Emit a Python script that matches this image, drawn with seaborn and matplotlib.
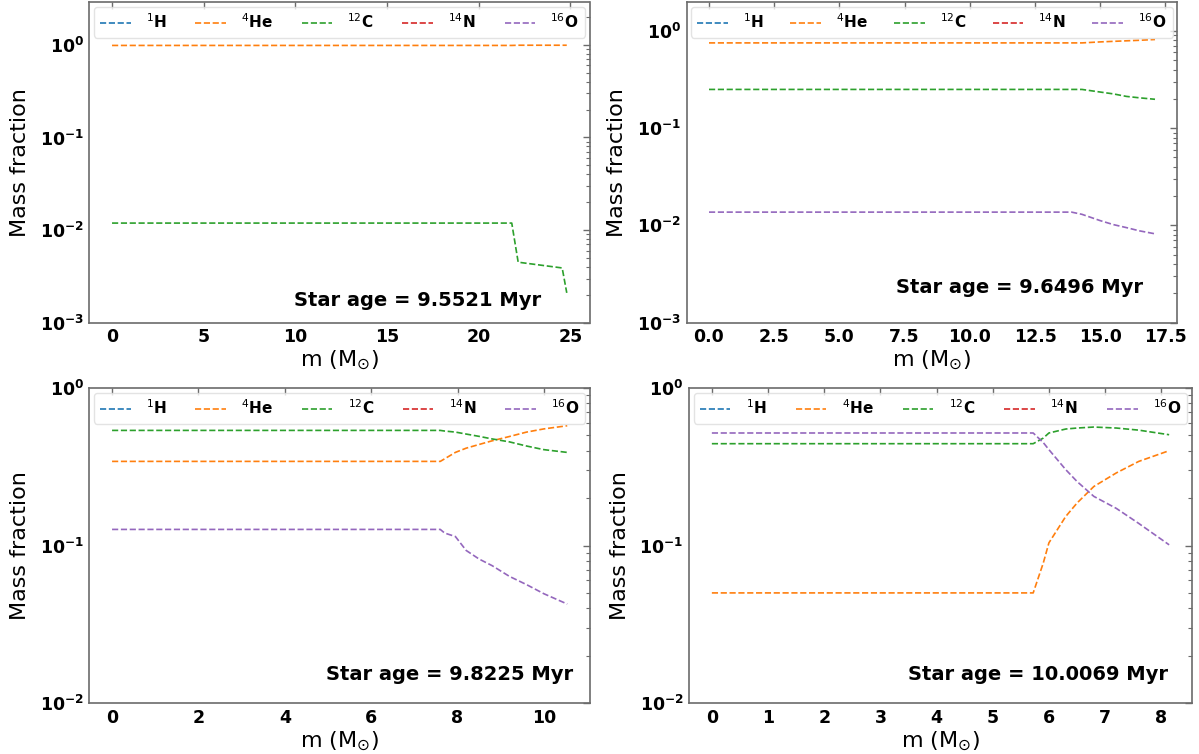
import numpy as np
import matplotlib
matplotlib.use("Agg")
import matplotlib.pyplot as plt
from matplotlib.ticker import FuncFormatter, LogLocator
import seaborn as sns

# Isotope labels and line colours
species = [r"$^{1}$H", r"$^{4}$He", r"$^{12}$C", r"$^{14}$N", r"$^{16}$O"]
colors = ["#1f77b4", "#ff7f0e", "#2ca02c", "#d62728", "#9467bd"]

# Profile 1: star age 9.5521 Myr
m1 = [0.0, 21.8, 22.15, 24.55, 24.8]
h1 = [1e-6, 1e-6, 1e-6, 1e-6, 1e-6]
he1 = [0.985, 0.985, 0.99, 0.99, 0.99]
c1 = [0.0119, 0.0119, 0.0045, 0.0039, 0.0021]
n1 = [1e-6, 1e-6, 1e-6, 1e-6, 1e-6]
o1 = [1e-5, 1e-5, 1e-5, 1e-5, 1e-5]

# Profile 2: star age 9.6496 Myr
m2 = [0.0, 13.9, 14.3, 15.0, 15.5, 16.0, 16.5, 17.1]
h2 = [1e-6] * 8
he2 = [0.752, 0.752, 0.752, 0.77, 0.78, 0.79, 0.80, 0.815]
c2 = [0.25, 0.25, 0.25, 0.235, 0.225, 0.212, 0.205, 0.198]
n2 = [1e-6] * 8
o2 = [0.0137, 0.0137, 0.013, 0.0112, 0.0102, 0.0095, 0.0088, 0.0082]

# Profile 3: star age 9.8225 Myr
m3 = [0.0, 7.6, 7.7, 7.95, 8.2, 8.5, 8.8, 9.2, 9.6, 10.0, 10.54]
h3 = [1e-6] * 11
he3 = [0.342, 0.342, 0.355, 0.39, 0.415, 0.438, 0.462, 0.492, 0.525, 0.55, 0.576]
c3 = [0.538, 0.538, 0.533, 0.525, 0.51, 0.493, 0.475, 0.455, 0.428, 0.406, 0.39]
n3 = [1e-6] * 11
o3 = [0.1265, 0.1265, 0.12, 0.114, 0.093, 0.082, 0.0745, 0.0637, 0.0564, 0.0494, 0.0425]

# Profile 4: star age 10.0069 Myr
m4 = [0.0, 5.72, 5.9, 6.0, 6.3, 6.5, 6.8, 7.2, 7.6, 8.14]
h4 = [1e-6] * 10
he4 = [0.05, 0.05, 0.0775, 0.104, 0.153, 0.186, 0.237, 0.289, 0.342, 0.40]
c4 = [0.443, 0.443, 0.481, 0.518, 0.549, 0.557, 0.565, 0.557, 0.54, 0.505]
n4 = [1e-6] * 10
o4 = [0.518, 0.518, 0.45, 0.406, 0.303, 0.255, 0.205, 0.172, 0.138, 0.101]

ages = ["9.5521", "9.6496", "9.8225", "10.0069"]
profiles = [
    (m1, [h1, he1, c1, n1, o1]),
    (m2, [h2, he2, c2, n2, o2]),
    (m3, [h3, he3, c3, n3, o3]),
    (m4, [h4, he4, c4, n4, o4]),
]
ylims = [(1e-3, 2.9), (1e-3, 1.98), (1e-2, 1.0), (1e-2, 1.0)]
xticks = [[0, 5, 10, 15, 20, 25],
          [0.0, 2.5, 5.0, 7.5, 10.0, 12.5, 15.0, 17.5],
          [0, 2, 4, 6, 8, 10],
          [0, 1, 2, 3, 4, 5, 6, 7, 8]]
age_pos = [(0.903, 0.068), (0.930, 0.111), (0.966, 0.089), (0.952, 0.089)]


def bold_power(v, pos):
    return r"$\mathbf{10^{%d}}$" % int(round(np.log10(v)))


sns.set_style("white")
plt.rcParams.update({
    "axes.edgecolor": "#6b6b6b",
    "axes.linewidth": 1.2,
    "xtick.color": "#6b6b6b",
    "ytick.color": "#6b6b6b",
    "xtick.labelcolor": "black",
    "ytick.labelcolor": "black",
    "text.color": "black",
    "axes.labelcolor": "black",
})

W, H = 1199, 754
fig = plt.figure(figsize=(W / 100, H / 100), dpi=100)
# axes boxes in pixels: left, right, top, bottom
boxes = [(89.3, 589.5, 2, 322.7), (686.7, 1177.3, 2, 322.7),
         (89.3, 590, 388, 703), (689, 1192, 388, 703)]

for i, (m, series) in enumerate(profiles):
    l, r, t, b = boxes[i]
    ax = fig.add_axes([l / W, (H - b) / H, (r - l) / W, (b - t) / H])
    for lab, col, vals in zip(species, colors, series):
        sns.lineplot(x=m, y=vals, ax=ax, color=col, linestyle="--",
                     linewidth=1.2, label=lab, estimator=None, sort=False)
    ax.set_yscale("log")
    ax.set_ylim(*ylims[i])
    ax.yaxis.set_major_locator(LogLocator(base=10))
    ax.yaxis.set_major_formatter(FuncFormatter(bold_power))
    ax.set_xticks(xticks[i])
    ax.margins(x=0.05)
    ax.tick_params(which="both", direction="in", top=True, right=True,
                   labelsize=12.5, pad=4)
    ax.tick_params(which="major", length=5, width=1.0)
    ax.tick_params(which="minor", length=3, width=0.8)
    for lbl in ax.get_xticklabels():
        lbl.set_fontweight("bold")
    ax.set_xlabel(r"m (M$_{\odot}$)", fontsize=16, labelpad=2)
    ax.set_ylabel("Mass fraction", fontsize=16, labelpad=7)
    ax.legend(loc="upper center", ncol=5, mode="expand",
              prop={"weight": "bold", "size": 11}, handletextpad=1.0,
              borderaxespad=0.3, framealpha=0.8, edgecolor="#dddddd")
    ax.text(age_pos[i][0], age_pos[i][1], f"Star age = {ages[i]} Myr",
            transform=ax.transAxes, ha="right", va="center",
            fontsize=14, fontweight="bold")

fig.savefig("out.png", dpi=100)
